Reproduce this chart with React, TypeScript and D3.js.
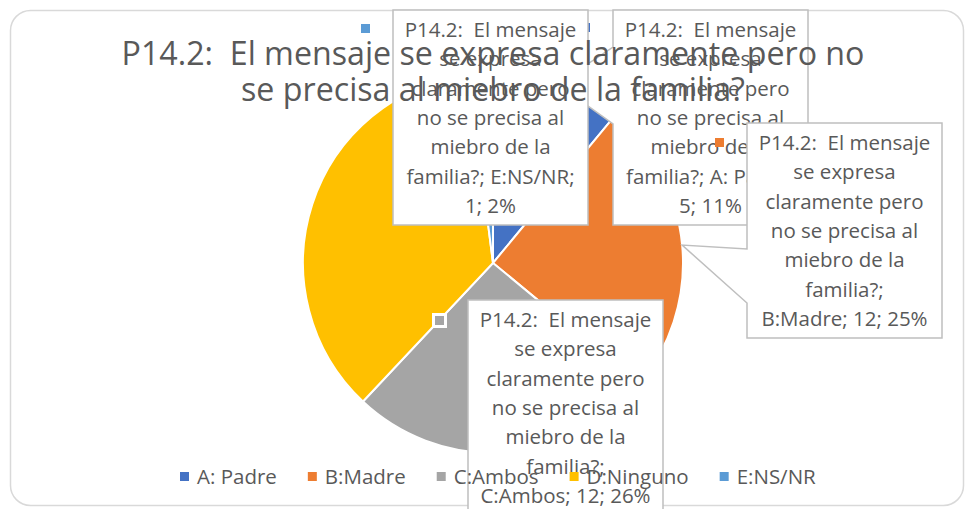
import { useEffect, useRef } from "react";
import * as d3 from "d3";

const question = "P14.2:  El mensaje se expresa claramente pero no se precisa al miebro de la familia?";
const titleLines = ["P14.2:  El mensaje se expresa claramente pero no", "se precisa al miebro de la familia?"];
const categories = ["A: Padre", "B:Madre", "C:Ambos", "D:Ninguno", "E:NS/NR"];
const counts = [5, 12, 12, 17, 1];
const percents = [11, 25, 26, 36, 2];
const colors = ["#4472C4", "#ED7D31", "#A5A5A5", "#FFC000", "#5B9BD5"];
// wrapped lines of the question as they appear inside each data label
const labelLines = ["P14.2:  El mensaje", "se expresa", "claramente pero", "no se precisa al", "miebro de la"];

// where Excel parked each data label box (layout only)
const labelBoxes = [
  { idx: 0, x: 613, y: 10, split: true, callout: true },
  { idx: 4, x: 393, y: 10, split: true, callout: false },
  { idx: 1, x: 747, y: 123, split: false, callout: true },
  { idx: 2, x: 468, y: 300, split: false, callout: false },
];
// small legend keys that belong to the labels
const labelKeys = [
  { idx: 0, x: 581, y: 23, ring: false },
  { idx: 4, x: 361, y: 24, ring: false },
  { idx: 2, x: 435, y: 316, ring: true },
];

const W = 966;
const H = 509;
const textColor = "#595959";
const font = "'Open Sans', sans-serif";

export default function App() {
  const ref = useRef<SVGSVGElement>(null);

  useEffect(() => {
    document.body.style.margin = "0";
    const svg = d3.select(ref.current);
    svg.selectAll("*").remove();

    // chart border
    svg.append("rect")
      .attr("x", 10.5).attr("y", 10.5)
      .attr("width", 953).attr("height", 495)
      .attr("rx", 20)
      .attr("fill", "#fff")
      .attr("stroke", "#d9d9d9")
      .attr("stroke-width", 1.5);

    const cx = 493;
    const cy = 263;
    const r = 190;

    const pie = d3.pie<number>().sort(null).value(d => d);
    const arcs = pie(percents);
    const arc = d3.arc<d3.PieArcDatum<number>>().innerRadius(0).outerRadius(r);

    const g = svg.append("g").attr("transform", `translate(${cx},${cy})`);
    g.selectAll("path")
      .data(arcs)
      .enter()
      .append("path")
      .attr("d", arc)
      .attr("fill", (d, i) => colors[i])
      .attr("stroke", "#fff")
      .attr("stroke-width", 2);

    const keySize = 9;
    const drawKey = (k: typeof labelKeys[number]) => {
      if (k.ring) {
        svg.append("rect")
          .attr("x", k.x - 3).attr("y", k.y - 3)
          .attr("width", keySize + 6).attr("height", keySize + 6)
          .attr("fill", "#fff");
      }
      svg.append("rect")
        .attr("x", k.x).attr("y", k.y)
        .attr("width", keySize).attr("height", keySize)
        .attr("fill", colors[k.idx]);
    };
    labelKeys.forEach(drawKey);

    // data labels
    const boxW = 195;
    const boxH = 215;
    const lineH = 29.3;
    const mid = (a: d3.PieArcDatum<number>) => (a.startAngle + a.endAngle) / 2;

    labelBoxes.forEach(b => {
      const i = b.idx;
      const lines = b.split
        ? [...labelLines, `familia?; ${categories[i]};`, `${counts[i]}; ${percents[i]}%`]
        : [...labelLines, "familia?;", `${categories[i]}; ${counts[i]}; ${percents[i]}%`];

      const ang = mid(arcs[i]);
      const tx = cx + r * Math.sin(ang);
      const ty = cy - r * Math.cos(ang);

      let d = "";
      if (b.callout && tx < b.x) {
        const y1 = i === 0 ? b.y + 37 : b.y + 126;
        const y2 = i === 0 ? b.y + 114 : b.y + 180;
        d = `M${b.x},${b.y}H${b.x + boxW}V${b.y + boxH}H${b.x}V${y2}L${tx},${ty}L${b.x},${y1}Z`;
      } else {
        d = `M${b.x},${b.y}H${b.x + boxW}V${b.y + boxH}H${b.x}Z`;
      }
      const bg = svg.append("g");
      bg.append("path")
        .attr("d", d)
        .attr("fill", "#fff")
        .attr("stroke", "#bfbfbf")
        .attr("stroke-width", 1.5);
      bg.selectAll("text")
        .data(lines)
        .enter()
        .append("text")
        .attr("x", b.x + boxW / 2)
        .attr("y", (l, j) => b.y + 27 + j * lineH)
        .attr("text-anchor", "middle")
        .attr("font-family", font)
        .attr("font-size", 20.5)
        .attr("fill", textColor)
        .style("white-space", "pre")
        .text(l => l);

      if (i === 0) {
        // the orange key of the B label floats on top of this box
        svg.append("rect")
          .attr("x", 715).attr("y", 138)
          .attr("width", keySize).attr("height", keySize)
          .attr("fill", colors[1]);
      }
    });

    // title
    svg.append("g")
      .selectAll("text")
      .data(titleLines)
      .enter()
      .append("text")
      .attr("x", cx)
      .attr("y", (l, j) => 65 + j * 36)
      .attr("text-anchor", "middle")
      .attr("font-family", font)
      .attr("font-size", 32.2)
      .attr("fill", textColor)
      .style("white-space", "pre")
      .text(l => l);

    // legend
    const lg = svg.append("g");
    let x = 180;
    categories.forEach((c, i) => {
      lg.append("rect")
        .attr("x", x).attr("y", 472)
        .attr("width", keySize).attr("height", keySize)
        .attr("fill", colors[i]);
      const t = lg.append("text")
        .attr("x", x + 17)
        .attr("y", 484)
        .attr("font-family", font)
        .attr("font-size", 20.5)
        .attr("fill", textColor)
        .text(c);
      const w = (t.node() as SVGTextElement).getComputedTextLength();
      x += 17 + w + 31;
    });
  }, []);

  return <svg ref={ref} width={W} height={H} aria-label={question}></svg>;
}
